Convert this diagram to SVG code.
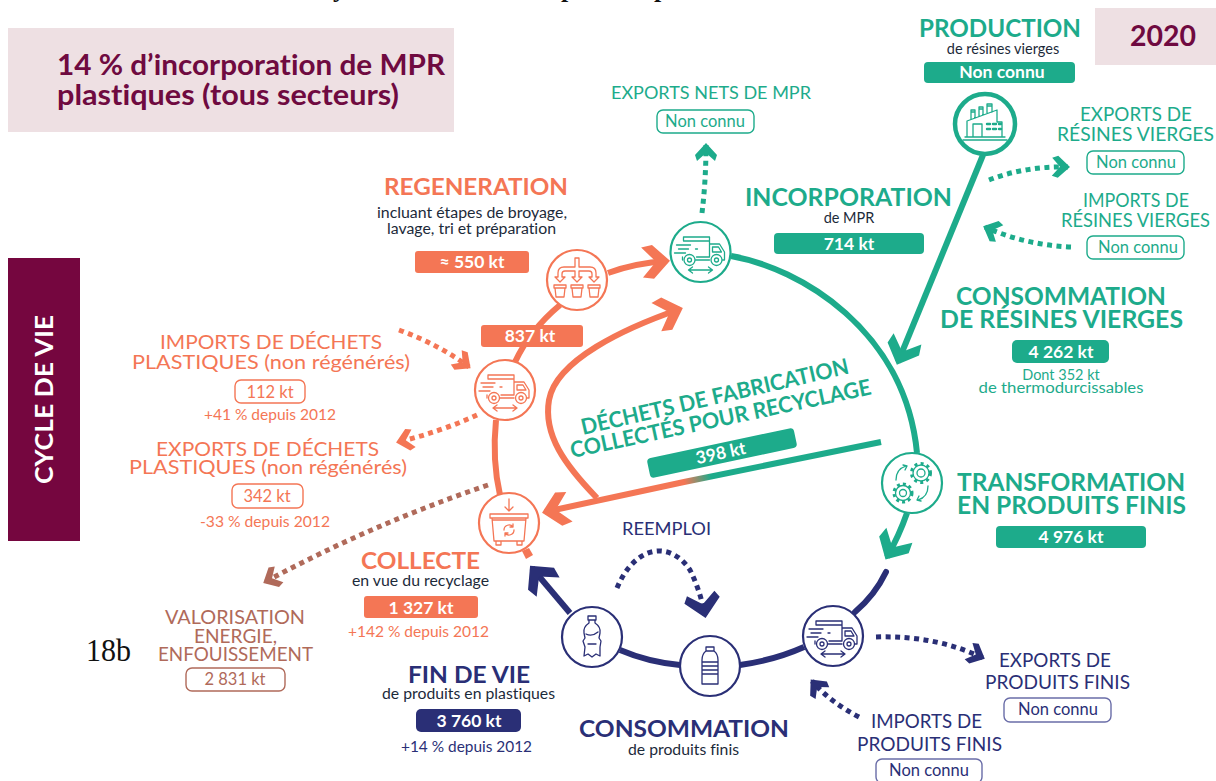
<svg xmlns="http://www.w3.org/2000/svg" xmlns:xlink="http://www.w3.org/1999/xlink" width="1216" height="781" viewBox="0 0 1216 781">
<style>
text{font-family:"Lato","Noto Sans","Liberation Sans",sans-serif;font-variant-ligatures:none}
.m{text-anchor:middle}
.t{font-weight:700}
.g{fill:#1dab8b}.o{fill:#f47655}.n{fill:#2a2f76}.b{fill:#b06a5a}.w{fill:#fff}.k{fill:#1c2a3a}.p{fill:#6f0a40}
.v{font-weight:700;font-size:17.500px;fill:#fff;text-anchor:middle}
.s{font-size:14.500px}
.r{font-size:19px}
.nc{font-size:16.500px;text-anchor:middle}
.c{fill:#fff;stroke-width:2.200}
.i{fill:none;stroke-width:1.300;stroke-linejoin:round;stroke-linecap:round;stroke:currentColor}
.og{stroke:#1dab8b}.oo{stroke:#f47655}.on{stroke:#2a2f76}.ob{stroke:#b06a5a}
.box{fill:#fff;stroke-width:1.400}
.solid{fill:none;stroke-width:6}
.dot{fill:none;stroke-width:5;stroke-dasharray:5 4.500}
</style>
<defs>
<linearGradient id="grad" gradientUnits="userSpaceOnUse" x1="684" y1="482" x2="711" y2="476"><stop offset="0" stop-color="#f47655"/><stop offset="1" stop-color="#1dab8b"/></linearGradient>
<marker id="ao" markerUnits="userSpaceOnUse" markerWidth="44" markerHeight="44" refX="33" refY="22" orient="auto"><path d="M36 22L19 5 8 7 22 22 8 37 19 39Z" fill="#f47655"/></marker>
<marker id="ag" markerUnits="userSpaceOnUse" markerWidth="44" markerHeight="44" refX="33" refY="22" orient="auto"><path d="M36 22L19 5 8 7 22 22 8 37 19 39Z" fill="#1dab8b"/></marker>
<marker id="an" markerUnits="userSpaceOnUse" markerWidth="44" markerHeight="44" refX="33" refY="22" orient="auto"><path d="M36 22L19 5 8 7 22 22 8 37 19 39Z" fill="#2a2f76"/></marker>
<marker id="dg" markerUnits="userSpaceOnUse" markerWidth="28" markerHeight="28" refX="22" refY="14" orient="auto"><path d="M24 14L12 3 6 5 14 14 6 23 12 25Z" fill="#1dab8b"/></marker>
<marker id="do" markerUnits="userSpaceOnUse" markerWidth="28" markerHeight="28" refX="22" refY="14" orient="auto"><path d="M24 14L12 3 6 5 14 14 6 23 12 25Z" fill="#f47655"/></marker>
<marker id="db" markerUnits="userSpaceOnUse" markerWidth="28" markerHeight="28" refX="22" refY="14" orient="auto"><path d="M24 14L12 3 6 5 14 14 6 23 12 25Z" fill="#b06a5a"/></marker>
<marker id="dn" markerUnits="userSpaceOnUse" markerWidth="28" markerHeight="28" refX="22" refY="14" orient="auto"><path d="M24 14L12 3 6 5 14 14 6 23 12 25Z" fill="#2a2f76"/></marker>
<marker id="dnb" markerUnits="userSpaceOnUse" markerWidth="44" markerHeight="44" refX="33" refY="22" orient="auto"><path d="M36 22L18 4 11 8 22 22 11 36 18 40Z" fill="#2a2f76"/></marker>
<symbol id="truck" overflow="visible"><g class="i">
<path d="M-17-15H9V5H-4M-17-15V-11H9M9-8H19L24 0V8H22M12-5V0H21L18-5ZM9 8H-5M-18 5V8"/>
<circle cx="-11" cy="8" r="5.500"/><circle cx="-11" cy="8" r="2"/><circle cx="16" cy="8" r="5.500"/><circle cx="16" cy="8" r="2"/>
<path d="M-24-7H-10M-22-3H-12M-26 1H-15M-5-3H-3"/>
<path d="M-11 18H12M-8 15L-12 18-8 21M8 15L12 18 8 21"/>
</g></symbol>
</defs>
<rect width="1216" height="781" fill="#fff"/>
<g id="title-fragment" fill="#111">
<text x="333" y="-3" style="font-family:'Liberation Serif',serif;font-weight:700;font-size:26px">y</text>
<text x="561" y="-3" style="font-family:'Liberation Serif',serif;font-weight:700;font-size:26px">p</text>
<text x="654" y="-3" style="font-family:'Liberation Serif',serif;font-weight:700;font-size:26px">p</text>
</g>
<g id="banner">
<rect x="8" y="28" width="446" height="104" fill="#eee0e3"/>
<text class="p t" x="57" y="75" font-size="28" textLength="388" lengthAdjust="spacingAndGlyphs">14 % d’incorporation de MPR</text>
<text class="p t" x="57" y="105" font-size="28" textLength="342" lengthAdjust="spacingAndGlyphs">plastiques (tous secteurs)</text>
</g>
<g id="year"><rect x="1095" y="8" width="121" height="57" fill="#eee0e3"/><text class="p t" x="1130" y="46" font-size="28" textLength="66" lengthAdjust="spacingAndGlyphs">2020</text></g>
<g id="cycle"><rect x="8" y="258" width="72" height="283" fill="#75063f"/><text class="w t" transform="translate(53 484) rotate(-90)" font-size="25" textLength="169" lengthAdjust="spacingAndGlyphs">CYCLE DE VIE</text></g>
<g id="connectors">
<path class="solid og" d="M731 256C800 268 905 330 917 453"/>
<path class="solid og" marker-end="url(#ag)" d="M983 155L898 362"/>
<path class="solid og" marker-end="url(#ag)" d="M907 513Q899 536 887 557"/>
<path class="solid oo" marker-end="url(#ao)" d="M608 273Q635 263 667 261"/>
<path class="solid oo" d="M560 305Q530 330 515 362"/>
<path class="solid oo" d="M496 420Q492 460 500 495"/>
<path class="solid oo" marker-end="url(#ao)" d="M597 498C565 465 543 435 549 400C556 360 625 328 680 309"/>
<path class="solid" stroke="url(#grad)" marker-end="url(#ao)" d="M881 442L684 482L545 512"/>
<path class="solid on" marker-end="url(#an)" d="M570 613L532 568"/>
<path class="solid on" d="M620 650Q648 662 680 665"/>
<path class="solid on" d="M740 665Q775 660 804 647"/>
<path class="solid on" stroke-linecap="round" d="M855 612Q875 595 886 572"/>
<path d="M522 551L529 548 533 555 526 559Z" fill="#f47655"/>
<path class="dot og" marker-end="url(#dg)" d="M702 213Q706 180 706 145"/>
<path class="dot og" marker-end="url(#dg)" d="M989 180Q1025 166 1068 167"/>
<path class="dot og" marker-end="url(#dg)" d="M1071 247Q1025 245 985 227"/>
<path class="dot oo" marker-end="url(#do)" d="M399 330Q440 345 469 367"/>
<path class="dot oo" marker-end="url(#do)" d="M477 415Q440 432 398 442"/>
<path class="dot ob" marker-end="url(#db)" d="M488 485Q370 525 265 582"/>
<path class="dot on" marker-end="url(#dnb)" d="M617 588C635 545 670 540 690 570Q700 590 705 615"/>
<path class="dot on" marker-end="url(#dn)" d="M876 637Q935 635 983 658"/>
<path class="dot on" marker-end="url(#dn)" d="M859 717Q830 702 812 681"/>
</g>
<g id="node-production"><circle class="c og" cx="985" cy="124" r="30" style="stroke-width:4.500"/><g class="i" transform="translate(985 124)" style="color:#1dab8b"><path d="M-22 16H22M-20 13H20M-18 13V-3L12 -14V-2H17V13M-12 13V0H-3V13M-14-5V-14H-10V-6M-6-8V-17H-2V-9M2-11V-20H7V-12M-14-12H-10M-6-15H-2M2-18H7"/><path d="M2 0H5M8 0H11M14 0H16M2 5H5M8 5H11M14 5H16" stroke-width="2.400"/></g></g>
<g id="node-truck-green" transform="translate(700.500 252)"><circle class="c og" r="30"/><use xlink:href="#truck" href="#truck" style="color:#1dab8b"/></g>
<g id="node-regen" transform="translate(577 280)"><circle class="c oo" r="30"/><g class="i" style="color:#f47655"><path d="M-2-22H2V-13H13Q19-13 19-7V-3H22L17 2 12-3H15V-6Q15-9 12-9H2V-3H5L0 2-5-3H-2V-9H-12Q-15-9-15-6V-3H-12L-17 2-22-3H-19V-7Q-19-13-13-13H-2Z"/><path d="M-23 5H-11V8H-12L-13 17H-21L-22 8H-23ZM-23 8H-11M-6 5H6V8H5L4 17H-4L-5 8H-6ZM-6 8H6M11 5H23V8H22L21 17H13L12 8H11ZM11 8H23"/></g></g>
<g id="node-truck-orange" transform="translate(505 390)"><circle class="c oo" r="30"/><use xlink:href="#truck" href="#truck" style="color:#f47655"/></g>
<g id="node-collect" transform="translate(509 523)"><circle class="c oo" r="30"/><g class="i" style="color:#f47655"><path d="M0-24V-12M-4-16L0-12 4-16M-19-9H19V-5H-19ZM-17-5L-15 18H15L17-5M-17-3H17M-13 18V22H-8V18M8 18V22H13V18M-5 7A5 5 0 0 1 4 4M5 7A5 5 0 0 1-4 10M4 1V4H1M-4 13V10H-1"/></g></g>
<g id="node-bottle-used" transform="translate(592 637)"><circle class="c on" r="30"/><g class="i" style="color:#2a2f76"><path d="M-4-21H4V-17H-4ZM-3-17V-14Q-9-10-8-4L-7 1-9 4-7 10-8 19-4 17 0 20 4 17 8 19 8 10 9 4 7 1 8-4Q9-10 3-14V-17M-6-3Q0 0 6-5M-4 7H4"/></g></g>
<g id="node-bottle" transform="translate(710 666)"><circle class="c on" r="30"/><g class="i" style="color:#2a2f76"><path d="M-4-19H4V-15H-4ZM-4-15Q-8-12-8-6V18H8V-6Q8-12 4-15M-8-4H8M-8 0H8M-8 4H8M-8 8H8"/></g></g>
<g id="node-truck-navy" transform="translate(833 636)"><circle class="c on" r="30"/><use xlink:href="#truck" href="#truck" style="color:#2a2f76"/></g>
<g id="node-gears" transform="translate(912 483)"><circle class="c og" r="30"/><g class="i" style="color:#1dab8b"><circle cx="9" cy="-10" r="4"/><circle cx="9" cy="-10" r="8"/><circle cx="9" cy="-10" r="9.500" stroke-width="3" stroke-dasharray="3 3.300" stroke-linecap="butt"/><circle cx="-9" cy="10" r="3.500"/><circle cx="-9" cy="10" r="7.500"/><circle cx="-9" cy="10" r="9" stroke-width="3" stroke-dasharray="3 3" stroke-linecap="butt"/><path d="M-16-3Q-16-14-6-17M-9-18L-5-17-7-13M16 3Q16 14 6 17M9 18L5 17 7 13"/></g></g>

<g id="production"><text class="g t" x="919" y="36.500" font-size="24" textLength="162" lengthAdjust="spacingAndGlyphs">PRODUCTION</text><text class="k s m" x="1003" y="54">de résines vierges</text><rect x="924" y="62" width="151" height="21" rx="4" fill="#1dab8b"/><text class="v" x="1002" y="78">Non connu</text></g>
<g id="exports-mpr"><text class="g" x="611" y="99" font-size="18" textLength="200" lengthAdjust="spacingAndGlyphs">EXPORTS NETS DE MPR</text><rect class="box og" x="657" y="110" width="97" height="23" rx="6"/><text class="g nc" x="705" y="127">Non connu</text></g>
<g id="exports-resines"><text class="g m" x="1136" y="121" font-size="18.500" textLength="112" lengthAdjust="spacingAndGlyphs">EXPORTS DE</text><text class="g" x="1057" y="141" font-size="18.500" textLength="157" lengthAdjust="spacingAndGlyphs">RÉSINES VIERGES</text><rect class="box og" x="1087" y="151" width="97" height="23" rx="6"/><text class="g nc" x="1136" y="168">Non connu</text></g>
<g id="imports-resines"><text class="g m" x="1136" y="207" font-size="18.500" textLength="106" lengthAdjust="spacingAndGlyphs">IMPORTS DE</text><text class="g" x="1061" y="227" font-size="18.500" textLength="149" lengthAdjust="spacingAndGlyphs">RÉSINES VIERGES</text><rect class="box og" x="1087" y="236" width="97" height="23" rx="6"/><text class="g nc" x="1138" y="253">Non connu</text></g>
<g id="incorporation"><text class="g t" x="745" y="206" font-size="25" textLength="207" lengthAdjust="spacingAndGlyphs">INCORPORATION</text><text class="k s m" x="849" y="223">de MPR</text><rect x="774" y="233" width="150" height="21" rx="4" fill="#1dab8b"/><text class="v" x="849" y="250">714 kt</text></g>
<g id="consommation-resines"><text class="g t" x="956" y="305" font-size="24" textLength="210" lengthAdjust="spacingAndGlyphs">CONSOMMATION</text><text class="g t" x="940" y="328" font-size="24" textLength="243" lengthAdjust="spacingAndGlyphs">DE RÉSINES VIERGES</text><rect x="1012" y="340" width="97" height="23" rx="5" fill="#1dab8b"/><text class="v" x="1061" y="358">4 262 kt</text><text class="g s m" x="1061" y="380">Dont 352 kt</text><text class="g s m" x="1061" y="393" textLength="165" lengthAdjust="spacingAndGlyphs">de thermodurcissables</text></g>
<g id="transformation"><text class="g t" x="957" y="491" font-size="24" textLength="228" lengthAdjust="spacingAndGlyphs">TRANSFORMATION</text><text class="g t" x="957" y="514" font-size="24" textLength="229" lengthAdjust="spacingAndGlyphs">EN PRODUITS FINIS</text><rect x="996" y="526" width="150" height="22" rx="4" fill="#1dab8b"/><text class="v" x="1071" y="543">4 976 kt</text></g>
<g id="dechets-fabrication"><text class="g t" transform="translate(583 435) rotate(-13)" font-size="22" textLength="274" lengthAdjust="spacingAndGlyphs">DÉCHETS DE FABRICATION</text><text class="g t" transform="translate(572 458) rotate(-12)" font-size="22" textLength="307" lengthAdjust="spacingAndGlyphs">COLLECTÉS POUR RECYCLAGE</text><rect x="-75" y="-10" width="150" height="20" rx="4" fill="#1dab8b" transform="translate(722 453) rotate(-12)"/><text class="v" transform="translate(722 459) rotate(-12)">398 kt</text></g>
<g id="regeneration"><text class="o t" x="384" y="195" font-size="23" textLength="184" lengthAdjust="spacingAndGlyphs">REGENERATION</text><text class="k s" x="377" y="218" textLength="190" lengthAdjust="spacingAndGlyphs">incluant étapes de broyage,</text><text class="k s" x="387" y="234" textLength="169" lengthAdjust="spacingAndGlyphs">lavage, tri et préparation</text><rect x="415" y="251" width="114" height="22" rx="3" fill="#f47655"/><text class="v" x="472" y="268">≈ 550 kt</text></g>
<g id="flow-837"><rect x="481" y="325" width="102" height="22" rx="3" fill="#f47655"/><text class="v" x="530" y="342">837 kt</text></g>
<g id="imports-dechets"><text class="o r" x="160" y="349" textLength="222" lengthAdjust="spacingAndGlyphs">IMPORTS DE DÉCHETS</text><text class="o r" x="132" y="369" textLength="278" lengthAdjust="spacingAndGlyphs">PLASTIQUES (non régénérés)</text><rect class="box oo" x="235" y="380" width="70" height="23" rx="6"/><text class="o nc" x="270" y="398">112 kt</text><text class="o s" x="204" y="420" textLength="132" lengthAdjust="spacingAndGlyphs">+41 % depuis 2012</text></g>
<g id="exports-dechets"><text class="o r" x="156" y="456" textLength="223" lengthAdjust="spacingAndGlyphs">EXPORTS DE DÉCHETS</text><text class="o r" x="129" y="474" textLength="278" lengthAdjust="spacingAndGlyphs">PLASTIQUES (non régénérés)</text><rect class="box oo" x="232" y="484" width="71" height="24" rx="6"/><text class="o nc" x="267" y="502">342 kt</text><text class="o s" x="200" y="527" textLength="130" lengthAdjust="spacingAndGlyphs">-33 % depuis 2012</text></g>
<g id="collecte"><text class="o t" x="361" y="569" font-size="23" textLength="119" lengthAdjust="spacingAndGlyphs">COLLECTE</text><text class="k s" x="352" y="586" textLength="137" lengthAdjust="spacingAndGlyphs">en vue du recyclage</text><rect x="364" y="596" width="114" height="22" rx="3" fill="#f47655"/><text class="v" x="421" y="614">1 327 kt</text><text class="o s" x="348" y="637" textLength="141" lengthAdjust="spacingAndGlyphs">+142 % depuis 2012</text></g>
<g id="valorisation"><text class="b" x="165" y="624" font-size="18.500" textLength="140" lengthAdjust="spacingAndGlyphs">VALORISATION</text><text class="b" x="194" y="643" font-size="18.500" textLength="83" lengthAdjust="spacingAndGlyphs">ENERGIE,</text><text class="b" x="158" y="661" font-size="18.500" textLength="155" lengthAdjust="spacingAndGlyphs">ENFOUISSEMENT</text><rect class="box ob" x="186" y="668" width="99" height="23" rx="6"/><text class="b nc" x="235" y="685">2 831 kt</text></g>
<text id="page-ref" x="86" y="661" fill="#111" style="font-family:'Liberation Serif',serif;font-size:32px" textLength="45" lengthAdjust="spacingAndGlyphs">18b</text>
<g id="fin-de-vie"><text class="n t" x="408" y="683" font-size="23" textLength="122" lengthAdjust="spacingAndGlyphs">FIN DE VIE</text><text class="k s" x="382" y="699" textLength="173" lengthAdjust="spacingAndGlyphs">de produits en plastiques</text><rect x="416" y="709" width="105" height="23" rx="5" fill="#2a2f76"/><text class="v" x="469" y="727">3 760 kt</text><text class="n s" x="401" y="752" textLength="131" lengthAdjust="spacingAndGlyphs">+14 % depuis 2012</text></g>
<g id="consommation-produits"><text class="n t" x="579" y="737" font-size="23" textLength="210" lengthAdjust="spacingAndGlyphs">CONSOMMATION</text><text class="k s" x="628" y="755" textLength="111" lengthAdjust="spacingAndGlyphs">de produits finis</text></g>
<g id="reemploi"><text class="n" x="622" y="535" font-size="17" textLength="89" lengthAdjust="spacingAndGlyphs">REEMPLOI</text></g>
<g id="exports-produits"><text class="n" x="999" y="667" font-size="18.500" textLength="112" lengthAdjust="spacingAndGlyphs">EXPORTS DE</text><text class="n" x="985" y="689" font-size="18.500" textLength="145" lengthAdjust="spacingAndGlyphs">PRODUITS FINIS</text><rect class="box on" x="1004" y="698" width="107" height="24" rx="6" style="stroke:#6a6da8"/><text class="n nc" x="1058" y="715">Non connu</text></g>
<g id="imports-produits"><text class="n" x="871" y="728" font-size="18.500" textLength="111" lengthAdjust="spacingAndGlyphs">IMPORTS DE</text><text class="n" x="857" y="751" font-size="18.500" textLength="145" lengthAdjust="spacingAndGlyphs">PRODUITS FINIS</text><rect class="box on" x="876" y="759" width="106" height="24" rx="6" style="stroke:#6a6da8"/><text class="n nc" x="929" y="776">Non connu</text></g>
</svg>
